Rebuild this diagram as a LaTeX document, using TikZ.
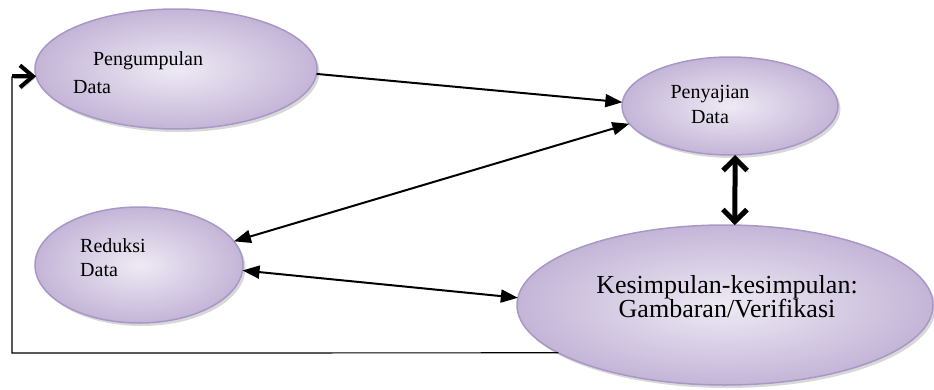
\documentclass[tikz,border=0pt]{standalone}
\usepackage{fontspec}
\setmainfont{Liberation Serif}
\usetikzlibrary{arrows.meta,shadows,shapes.geometric}
\definecolor{ellin}{HTML}{EEEAF4}
\definecolor{ellout}{HTML}{C4B5D7}
\definecolor{ellborder}{HTML}{A898C8}
\tikzset{
  ell/.style={ellipse, draw=ellborder, line width=1.5pt, inner sep=0pt, outer sep=0pt,
    shade, inner color=ellin, outer color=ellout,
    drop shadow={shadow xshift=2.5pt, shadow yshift=-3pt, fill=black!30}},
  small/.style={font=\fontsize{20}{25}\selectfont, inner sep=0pt},
  big/.style={font=\fontsize{26}{24}\selectfont, inner sep=0pt, align=center},
  conn/.style={line width=2pt, draw=black},
  tip/.style={-{Triangle[length=17pt,width=13pt]}},
  both/.style={{Triangle[length=17pt,width=13pt]}-{Triangle[length=17pt,width=13pt]}},
  shadowed/.style={preaction={draw=black!35, transform canvas={shift={(1.5pt,-2pt)}}}},
  thickboth/.style={line width=5pt, {Straight Barb[length=12pt,width=24pt]}-{Straight Barb[length=12pt,width=24pt]}},
  feedback/.style={line width=1.2pt, draw=black},
}
\begin{document}
\begin{tikzpicture}[x=1pt,y=-1pt]
\useasboundingbox (0,0) rectangle (934,389);
% ellipses
\node[ell, minimum width=282pt, minimum height=120pt] (p) at (176,69) {};
\node[ell, minimum width=216pt, minimum height=98pt] (s) at (730,106) {};
\node[ell, minimum width=208pt, minimum height=116pt] (r) at (139,265) {};
\node[ell, minimum width=416pt, minimum height=160pt] (k) at (725,305) {};
% texts
\node[small, anchor=base] (pt1) at (148,65) {Pengumpulan};
\node[small, anchor=base west] (pt2) at (73,93) {Data};
\node[small, anchor=base] (st1) at (710,98) {Penyajian};
\node[small, anchor=base] (st2) at (710,123) {Data};
\node[small, anchor=base west] (rt1) at (80,252) {Reduksi};
\node[small, anchor=base west] (rt2) at (80,276) {Data};
\node[big, anchor=base] (kt1) at (727,293) {Kesimpulan-kesimpulan:};
\node[big, anchor=base] (kt2) at (727,317) {Gambaran/Verifikasi};
% connectors
\draw[conn, tip] (p.-2) -- (s.178);
\draw[conn, both] (s.190) -- (r.14);
\draw[conn, both] (r.-3) -- (k.178);
\draw[thickboth, shadowed] (s.-84) -- (k.83);
% feedback loop
\coordinate (fbl) at (12,353);
\draw[feedback] (k.196) -- (fbl) -- (fbl |- p.183);
\draw[line width=4pt, -{Straight Barb[length=13pt,width=22pt]}, shadowed] (fbl |- p.183) -- (p.183);
\end{tikzpicture}
\end{document}
